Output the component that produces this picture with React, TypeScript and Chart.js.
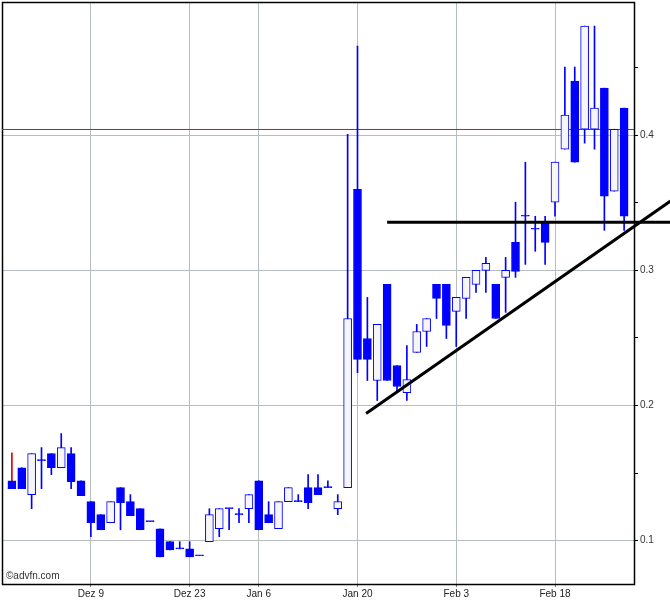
import React, { useEffect, useRef } from "react";
import { Chart, registerables } from "chart.js";

Chart.register(...registerables);

const dates = [
  "Nov 26", "Nov 27", "Nov 29", "Dez 2", "Dez 3", "Dez 4", "Dez 5", "Dez 6", "Dez 9", "Dez 10",
  "Dez 11", "Dez 12", "Dez 13", "Dez 16", "Dez 17", "Dez 18", "Dez 19", "Dez 20", "Dez 23", "Dez 26",
  "Dez 27", "Dez 30", "Dez 31", "Jan 2", "Jan 3", "Jan 6", "Jan 7", "Jan 8", "Jan 9", "Jan 10",
  "Jan 13", "Jan 14", "Jan 15", "Jan 16", "Jan 17", "Jan 20", "Jan 21", "Jan 22", "Jan 23", "Jan 24",
  "Jan 27", "Jan 28", "Jan 29", "Jan 30", "Jan 31", "Feb 3", "Feb 4", "Feb 5", "Feb 6", "Feb 7",
  "Feb 10", "Feb 11", "Feb 12", "Feb 13", "Feb 14", "Feb 18", "Feb 19", "Feb 20", "Feb 21", "Feb 24",
  "Feb 25", "Feb 26", "Feb 27",
];

const opens = [
  0.1444, 0.154, 0.134, 0.1593, 0.1644, 0.154, 0.1644, 0.1444, 0.1289, 0.1193,
  0.1133, 0.1393, 0.1289, 0.1237, 0.1141, 0.1089, 0.0993, 0.094, 0.094, 0.0889,
  0.0993, 0.1089, 0.1237, 0.1193, 0.1237, 0.1444, 0.1193, 0.1089, 0.1289, 0.1289,
  0.1393, 0.1393, 0.1393, 0.1237, 0.1393, 0.36, 0.2496, 0.2185, 0.2896, 0.2296,
  0.2096, 0.2393, 0.2548, 0.2896, 0.2896, 0.2696, 0.2793, 0.2896, 0.3, 0.2896,
  0.2948, 0.3207, 0.34, 0.3304, 0.3348, 0.3504, 0.3896, 0.44, 0.4044, 0.4044,
  0.4348, 0.3585, 0.42,
];
const highs = [
  0.165, 0.154, 0.1644, 0.1689, 0.1644, 0.1793, 0.1689, 0.1444, 0.1289, 0.1193,
  0.1289, 0.1393, 0.1341, 0.1237, 0.1141, 0.1089, 0.0993, 0.0993, 0.0993, 0.0889,
  0.1237, 0.1237, 0.1237, 0.1237, 0.1341, 0.1444, 0.1289, 0.1289, 0.1393, 0.1341,
  0.1489, 0.1489, 0.1444, 0.1341, 0.4007, 0.4659, 0.28, 0.26, 0.2896, 0.2296,
  0.2444, 0.26, 0.2644, 0.2896, 0.2896, 0.28, 0.2948, 0.3, 0.3096, 0.2896,
  0.3096, 0.3504, 0.38, 0.34, 0.34, 0.38, 0.4504, 0.4504, 0.4807, 0.4807,
  0.4348, 0.4044, 0.42,
];
const lows = [
  0.1385, 0.1385, 0.1237, 0.1385, 0.1489, 0.154, 0.1385, 0.1333, 0.103, 0.1081,
  0.1133, 0.1081, 0.1185, 0.1081, 0.1141, 0.0881, 0.0933, 0.094, 0.0881, 0.0889,
  0.0993, 0.103, 0.1081, 0.1133, 0.1133, 0.1081, 0.1133, 0.1089, 0.1289, 0.1289,
  0.1237, 0.1341, 0.1393, 0.1193, 0.1393, 0.2244, 0.2185, 0.2037, 0.2185, 0.2096,
  0.2037, 0.2393, 0.2437, 0.2644, 0.2496, 0.2437, 0.2644, 0.2837, 0.2837, 0.2644,
  0.2689, 0.2948, 0.3044, 0.3141, 0.3044, 0.34, 0.3896, 0.38, 0.3941, 0.3896,
  0.3296, 0.3585, 0.3296,
];
const closes = [
  0.1385, 0.1385, 0.1644, 0.1593, 0.154, 0.1689, 0.1437, 0.1333, 0.1133, 0.1081,
  0.1289, 0.1281, 0.1185, 0.1081, 0.1141, 0.0881, 0.0933, 0.094, 0.0881, 0.0889,
  0.1193, 0.1237, 0.1237, 0.1193, 0.1341, 0.1081, 0.1133, 0.1289, 0.1393, 0.1289,
  0.1281, 0.1341, 0.1393, 0.1289, 0.2644, 0.2341, 0.2341, 0.26, 0.2185, 0.2141,
  0.2193, 0.2548, 0.2644, 0.2793, 0.2593, 0.28, 0.2948, 0.3, 0.3052, 0.2644,
  0.3, 0.2993, 0.34, 0.3304, 0.3207, 0.38, 0.4148, 0.38, 0.4807, 0.42,
  0.3548, 0.4044, 0.34,
];

const xTickLabels = ["Dez 9", "Dez 23", "Jan 6", "Jan 20", "Feb 3", "Feb 18"];
const yTicks = [0.1, 0.15, 0.2, 0.25, 0.3, 0.35, 0.4, 0.45];
const yLabelTicks = [0.1, 0.2, 0.3, 0.4];
const yRange = [0.068, 0.4985];

const resistanceX = [-1, 63];
const resistanceY = [0.4042, 0.4042];
const supportX = [38, 66.7];
const supportY = [0.3356, 0.3356];
const trendX = [35.87, 66.7];
const trendY = [0.1941, 0.3513];

const BLUE = "#0000ff";
const GRID = "#b6bdc0";
const FONT = "'Liberation Sans', Arial, sans-serif";

export default function App() {
  const ref = useRef<HTMLCanvasElement | null>(null);

  useEffect(() => {
    document.body.style.margin = "0";
    const canvas = ref.current;
    if (!canvas) return;

    const xTickIdx = xTickLabels.map((l) => dates.indexOf(l));
    const isLabelTick = (v: number) => yLabelTicks.some((t) => Math.abs(t - v) < 1e-6);

    const frame = {
      id: "frame",
      beforeDatasetsDraw(chart: any) {
        const { ctx, chartArea: a } = chart;
        ctx.save();
        ctx.strokeStyle = "#000";
        ctx.lineWidth = 1.5;
        ctx.strokeRect(Math.round(a.left) + 0.5, Math.round(a.top) + 0.5, Math.round(a.right - a.left), Math.round(a.bottom - a.top));
        ctx.restore();
      },
      afterDraw(chart: any) {
        const { ctx, chartArea: a } = chart;
        ctx.save();
        ctx.fillStyle = "#333";
        ctx.font = `10px ${FONT}`;
        ctx.textBaseline = "middle";
        ctx.fillText("\u00a9advfn.com", a.left + 4, a.bottom - 8);
        ctx.restore();
      },
    };

    const chart = new Chart(canvas, {
      type: "bar",
      data: {
        datasets: [
          {
            type: "line",
            data: trendX.map((x, i) => ({ x, y: trendY[i] })),
            borderColor: "#000",
            borderWidth: 3,
            pointRadius: 0,
            clip: false,
            order: -2,
          } as any,
          {
            type: "line",
            data: supportX.map((x, i) => ({ x, y: supportY[i] })),
            borderColor: "#000",
            borderWidth: 3,
            pointRadius: 0,
            clip: false,
            order: -1,
          } as any,
          {
            type: "bar",
            data: dates.map((_, i) => ({ x: i, y: [opens[i], closes[i]] })),
            backgroundColor: dates.map((_, i) => (closes[i] > opens[i] ? "#f6f6f6" : BLUE)),
            borderColor: BLUE,
            borderWidth: 1,
            borderSkipped: false,
            barThickness: 8,
            minBarLength: 1,
            grouped: false,
            order: 0,
          } as any,
          {
            type: "bar",
            data: dates.map((_, i) => ({ x: i, y: [lows[i], highs[i]] })),
            backgroundColor: dates.map((_, i) => (i === 0 ? "#e00000" : BLUE)),
            borderWidth: 0,
            barThickness: 1,
            grouped: false,
            order: 1,
          } as any,
          {
            type: "line",
            data: resistanceX.map((x, i) => ({ x, y: resistanceY[i] })),
            borderColor: "#ff0000",
            borderWidth: 1,
            pointRadius: 0,
            order: 2,
          } as any,
        ],
      },
      options: {
        animation: false,
        responsive: false,
        maintainAspectRatio: false,
        layout: { autoPadding: false, padding: { left: 2, top: 2, right: 0, bottom: 0 } },
        plugins: { legend: { display: false }, tooltip: { enabled: false } },
        scales: {
          x: {
            type: "linear",
            min: -1,
            max: 63,
            offset: false,
            afterBuildTicks: (s: any) => {
              s.ticks = xTickIdx.map((v) => ({ value: v }));
            },
            afterFit: (s: any) => {
              s.height = 16;
              s.paddingLeft = 0;
              s.paddingRight = 0;
            },
            ticks: {
              autoSkip: false,
              maxRotation: 0,
              padding: 1,
              color: "#222",
              font: { family: FONT, size: 10 },
              callback: (v: any) => {
                const k = xTickIdx.indexOf(Math.round(Number(v)));
                return k >= 0 ? xTickLabels[k] : "";
              },
            },
            grid: { color: GRID, offset: false, tickLength: 3, tickColor: "#777" },
            border: { display: false },
          },
          y: {
            type: "linear",
            position: "right",
            min: yRange[0],
            max: yRange[1],
            afterBuildTicks: (s: any) => {
              s.ticks = yTicks.map((v) => ({ value: v }));
            },
            afterFit: (s: any) => {
              s.width = 36;
              s.paddingTop = 0;
              s.paddingBottom = 0;
            },
            ticks: {
              padding: 2,
              color: "#333",
              font: { family: FONT, size: 10 },
              callback: (v: any) => (isLabelTick(Number(v)) ? String(Number(v).toFixed(1)) : ""),
            },
            grid: {
              color: (c: any) => (c.tick && isLabelTick(c.tick.value) ? GRID : "rgba(0,0,0,0)"),
              tickLength: 4,
              tickColor: "#000",
            },
            border: { display: false },
          },
        },
      } as any,
      plugins: [frame],
    });

    return () => chart.destroy();
  }, []);

  return (
    <div style={{ width: 670, height: 600, background: "#fff" }}>
      <canvas ref={ref} width={670} height={600} style={{ display: "block", width: 670, height: 600 }} />
    </div>
  );
}
